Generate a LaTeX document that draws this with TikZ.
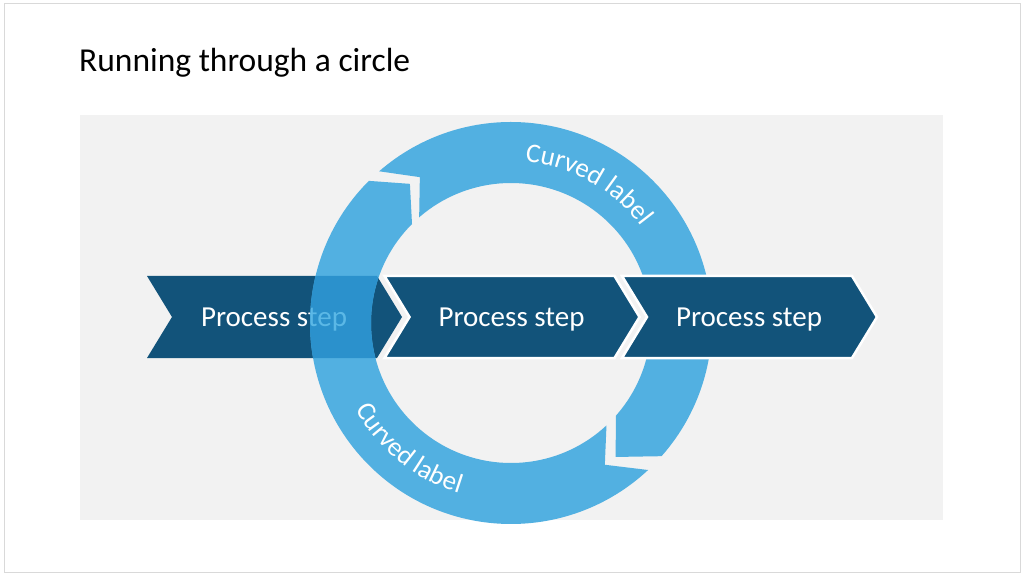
\documentclass[tikz,border=0pt]{standalone}
\usepackage{fontspec}
\setmainfont{Carlito}
\usetikzlibrary{calc,decorations.text}
\definecolor{ring}{HTML}{52B0E1}
\definecolor{chev}{HTML}{12537A}
\definecolor{ovl}{HTML}{2B91CC}
\definecolor{ovtxt}{HTML}{5BB8E6}
\definecolor{bgg}{HTML}{F2F2F2}
\definecolor{frm}{HTML}{D9D9D9}
\begin{document}
\begin{tikzpicture}[x=1pt,y=1pt,
  lbl/.style={text=white,font=\fontsize{29}{29}\selectfont,inner sep=0pt},
  ringsty/.style={fill=ring},
  curved/.style={decorate,decoration={text along path,text color=white,text align=left,
    text format delimiters={|}{|},text={|\fontsize{27}{27}\selectfont|Curved label}}}]
\useasboundingbox (0,0) rectangle (1024,576);
\fill[white] (0,0) rectangle (1024,576);
\draw[frm,line width=1pt] (4,4) rectangle (1020,572);
\node[anchor=west,font=\fontsize{33.5}{33.5}\selectfont,inner sep=0pt] (title) at (79,513) {Running through a circle};
\fill[bgg] (80,56) rectangle (943,461);
\coordinate (c) at (511,253);
\def\chevpath#1{(#1,300)--(#1+230,300)--(#1+255,259)--(#1+230,218)--(#1,218)--(#1+25,259)--cycle}
% chevron 1
\fill[chev] \chevpath{147};
\node[lbl] (p1) at (274,256) {Process step};
% ring
\def\lowerarrow{($(c)+(-47:201)$) arc[start angle=-47,end angle=-225,radius=201] -- ($(c)+(126:172)$) -- ($(c)+(135:140)$) arc[start angle=-225,end angle=-47,radius=140] -- ($(c)+(-56.5:170)$) -- cycle}
\def\upperarrow{($(c)+(131:201)$) arc[start angle=131,end angle=-41.5,radius=201] -- ($(c)+(-52:170)$) -- ($(c)+(-41.5:140)$) arc[start angle=-41.5,end angle=131,radius=140] -- ($(c)+(122:172)$) -- cycle}
\fill[ringsty] \lowerarrow;
\fill[ringsty] \upperarrow;
% overlap of ring and chevron 1
\begin{scope}[even odd rule]
\clip \chevpath{147};
\fill[ovl] (c) circle[radius=201] (c) circle[radius=140];
\clip (c) circle[radius=201] (c) circle[radius=140];
\node[lbl,text=ovtxt] at (274,256) {Process step};
\end{scope}
% chevrons 2 and 3
\filldraw[chev,draw=white,line width=2.5pt] \chevpath{384.5};
\node[lbl] (p2) at (511.5,256) {Process step};
\filldraw[chev,draw=white,line width=2.5pt] \chevpath{622};
\node[lbl] (p3) at (749,256) {Process step};
% curved labels
\path[curved] ($(c)+(85:162)$) arc[start angle=85,end angle=10,radius=162];
\path[curved] ($(c)+(209:178)$) arc[start angle=209,end angle=290,radius=178];
\end{tikzpicture}
\end{document}
